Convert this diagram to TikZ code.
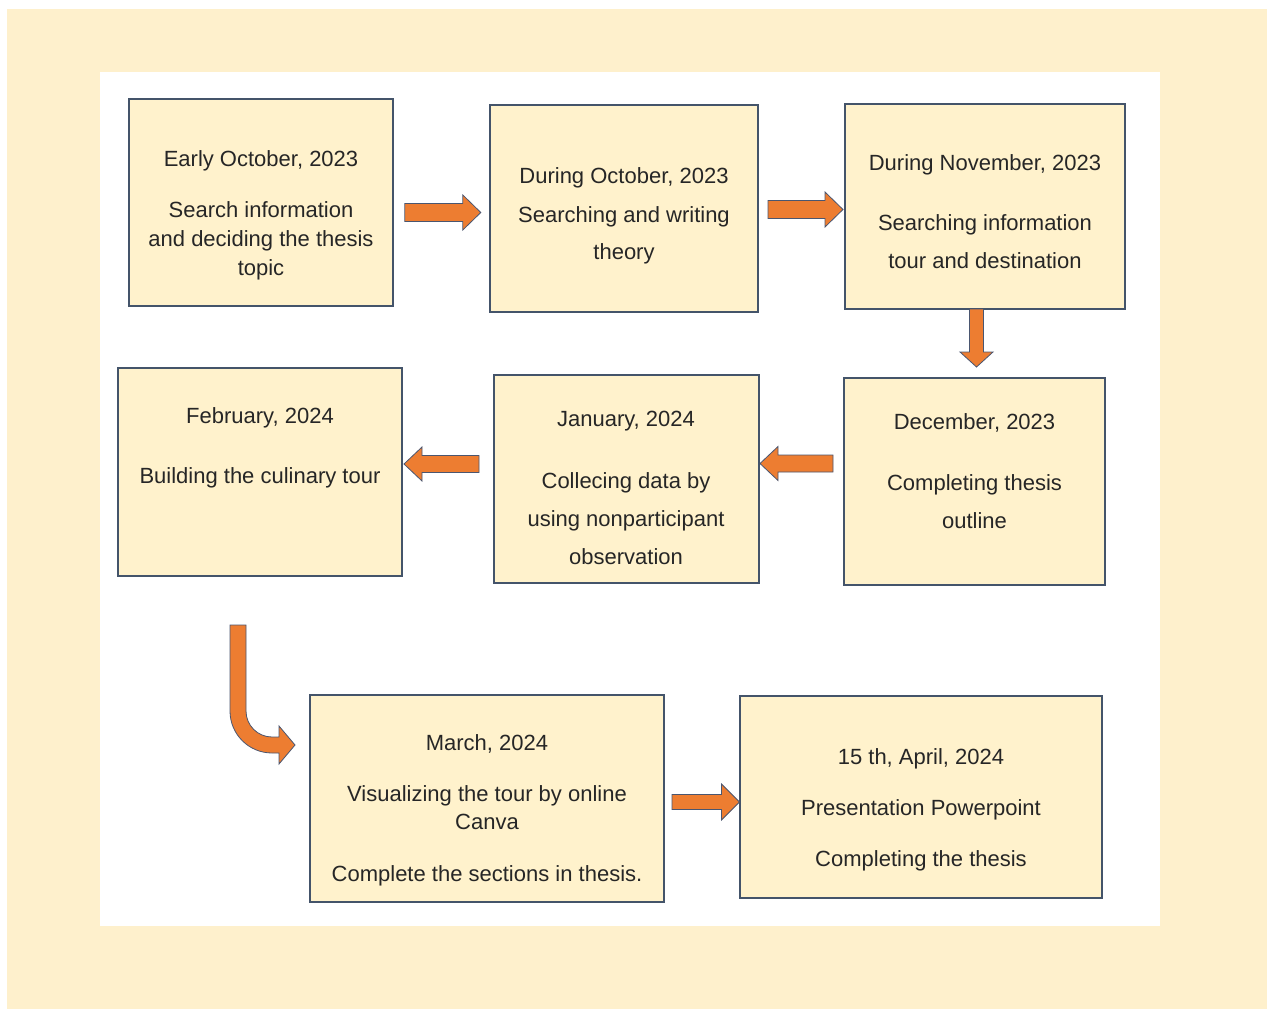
\documentclass[tikz,border=0pt]{standalone}
\usepackage{fontspec}
\setmainfont{Liberation Sans}
\definecolor{bgyel}{HTML}{FEF0CC}
\definecolor{boxfill}{HTML}{FFF2CC}
\definecolor{boxline}{HTML}{44546A}
\definecolor{arrfill}{HTML}{ED7D31}
\definecolor{arrline}{HTML}{4A5670}
\definecolor{txtcol}{HTML}{262626}
\newcommand\blockarr[7]{% cx, cy, angle, length, shaft half, head half, head length
  \begin{scope}[shift={(#1,#2)}, rotate=#3]
    \draw[blockarrow] (-#4/2,-#5) -- (#4/2-#7,-#5) -- (#4/2-#7,-#6) -- (#4/2,0)
      -- (#4/2-#7,#6) -- (#4/2-#7,#5) -- (-#4/2,#5) -- cycle;
  \end{scope}}
\begin{document}
\begin{tikzpicture}[x=1pt,y=-1pt,
  stepbox/.style={draw=boxline, line width=1.2pt, fill=boxfill, inner sep=0pt},
  lbl/.style={anchor=base, inner sep=0pt, font=\fontsize{22}{26}\selectfont, text=txtcol},
  blockarrow/.style={fill=arrfill, draw=arrline, line width=0.8pt, line join=miter}]
\useasboundingbox (0,0) rectangle (1267,1009);
\fill[white] (0,0) rectangle (1267,1009);
\fill[bgyel] (7,9) rectangle (1267,1009);
\fill[white] (100,72) rectangle (1160,926);

% boxes
\node[stepbox, minimum width=264pt, minimum height=207pt] (b1) at (261,202.5) {};
\node[stepbox, minimum width=268pt, minimum height=207pt] (b2) at (624,208.5) {};
\node[stepbox, minimum width=280pt, minimum height=205pt] (b3) at (985,206.5) {};
\node[stepbox, minimum width=261pt, minimum height=207pt] (b4) at (974.5,481.5) {};
\node[stepbox, minimum width=265pt, minimum height=208pt] (b5) at (626.5,479) {};
\node[stepbox, minimum width=284pt, minimum height=208pt] (b6) at (260,472) {};
\node[stepbox, minimum width=354pt, minimum height=207pt] (b7) at (487,798.5) {};
\node[stepbox, minimum width=362pt, minimum height=202pt] (b8) at (921,797) {};

% texts
\node[lbl] (t1a) at (261,166) {Early October, 2023};
\node[lbl] (t1b) at (261,217) {Search information};
\node[lbl] (t1c) at (261,246) {and deciding the thesis};
\node[lbl] (t1d) at (261,275) {topic};

\node[lbl] (t2a) at (624,183) {During October, 2023};
\node[lbl] (t2b) at (624,222) {Searching and writing};
\node[lbl] (t2c) at (624,259) {theory};

\node[lbl] (t3a) at (985,170) {During November, 2023};
\node[lbl] (t3b) at (985,230) {Searching information};
\node[lbl] (t3c) at (985,268) {tour and destination};

\node[lbl] (t4a) at (974.5,429) {December, 2023};
\node[lbl] (t4b) at (974.5,490) {Completing thesis};
\node[lbl] (t4c) at (974.5,528) {outline};

\node[lbl] (t5a) at (626,426) {January, 2024};
\node[lbl] (t5b) at (626,488) {Collecing data by};
\node[lbl] (t5c) at (626,526) {using nonparticipant};
\node[lbl] (t5d) at (626,564) {observation};

\node[lbl] (t6a) at (260,423) {February, 2024};
\node[lbl] (t6b) at (260,483) {Building the culinary tour};

\node[lbl] (t7a) at (487,750) {March, 2024};
\node[lbl] (t7b) at (487,801) {Visualizing the tour by online};
\node[lbl] (t7c) at (487,829) {Canva};
\node[lbl] (t7d) at (487,881) {Complete the sections in thesis.};

\node[lbl] (t8a) at (921,764) {15 th, April, 2024};
\node[lbl] (t8b) at (921,815) {Presentation Powerpoint};
\node[lbl] (t8c) at (921,866) {Completing the thesis};

% arrows
\blockarr{442.8}{212.5}{0}{76}{9}{17.5}{18}
\blockarr{805.5}{209.5}{0}{75}{9}{17.5}{18}
\blockarr{976.5}{338}{-90}{58}{7}{16.5}{15}
\blockarr{796.5}{463.5}{180}{73}{8.5}{17}{18}
\blockarr{441.5}{464}{180}{75}{8.5}{17}{18}
\blockarr{705.8}{802}{0}{67.5}{7.5}{18}{18}
\draw[blockarrow] (230,625) -- (246,625) -- (246,711)
  .. controls (246,725.4) and (257.7,737) .. (272,737) -- (279,737) -- (279,726)
  -- (295,745) -- (279,764) -- (279,753) -- (272,753)
  .. controls (248.8,753) and (230,734.2) .. (230,711) -- cycle;
\end{tikzpicture}
\end{document}
